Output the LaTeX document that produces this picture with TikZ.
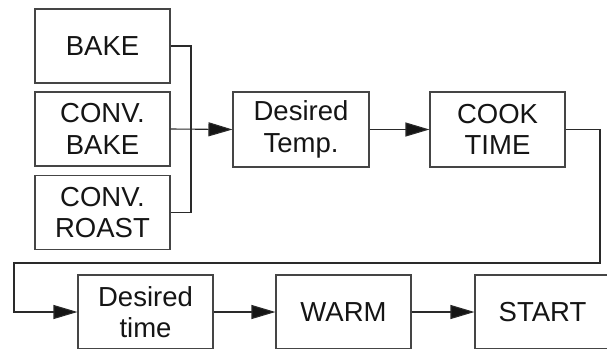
\documentclass[tikz,border=0pt]{standalone}
\usepackage{fontspec}
\setmainfont{Liberation Sans}
\usetikzlibrary{arrows.meta}
\definecolor{boxline}{HTML}{454545}
\definecolor{txt}{HTML}{151515}
\definecolor{lne}{HTML}{2A2A2A}
\begin{document}
\begin{tikzpicture}[x=1pt,y=-1pt,
  box/.style={draw=boxline,line width=1.1pt,minimum width=135pt,minimum height=74pt,inner sep=0pt,
    align=center,text=txt,font=\fontsize{27.5}{31.5}\selectfont},
  conn/.style={draw=lne,line width=1.1pt,line join=miter},
  arr/.style={conn,-{Triangle[length=24pt,width=14pt,fill=txt]}}]
\clip (0,0) rectangle (607,348);
\fill[white] (0,0) rectangle (607,348);
\node[box] (bake) at (102.5,46) {BAKE};
\node[box] (cbake) at (102.5,129) {CONV.\\BAKE};
\node[box] (croast) at (102.5,212.5) {CONV.\\ROAST};
\node[box,minimum width=136pt,minimum height=75pt] (dtemp) at (301,129.5) {Desired\\Temp.};
\node[box,minimum height=75pt] (cook) at (497.5,129.5) {COOK\\TIME};
\node[box] (dtime) at (145.5,312) {Desired\\time};
\node[box] (warm) at (343.5,312) {WARM};
\node[box] (start) at (542.5,312) {START};
\coordinate (b1) at (191,46);
\coordinate (b2) at (191,212.5);
\coordinate (r1) at (600,129.5);
\coordinate (r2) at (600,263);
\coordinate (r3) at (14,263);
\coordinate (r4) at (14,312);
\draw[conn] (bake.east) -- (b1) -- (b2) -- (croast.east);
\draw[arr] (cbake.east) -- (dtemp.west);
\draw[arr] (dtemp.east) -- (cook.west);
\draw[arr] (cook.east) -- (r1) -- (r2) -- (r3) -- (r4) -- (dtime.west);
\draw[arr] (dtime.east) -- (warm.west);
\draw[arr] (warm.east) -- (start.west);
\end{tikzpicture}
\end{document}
